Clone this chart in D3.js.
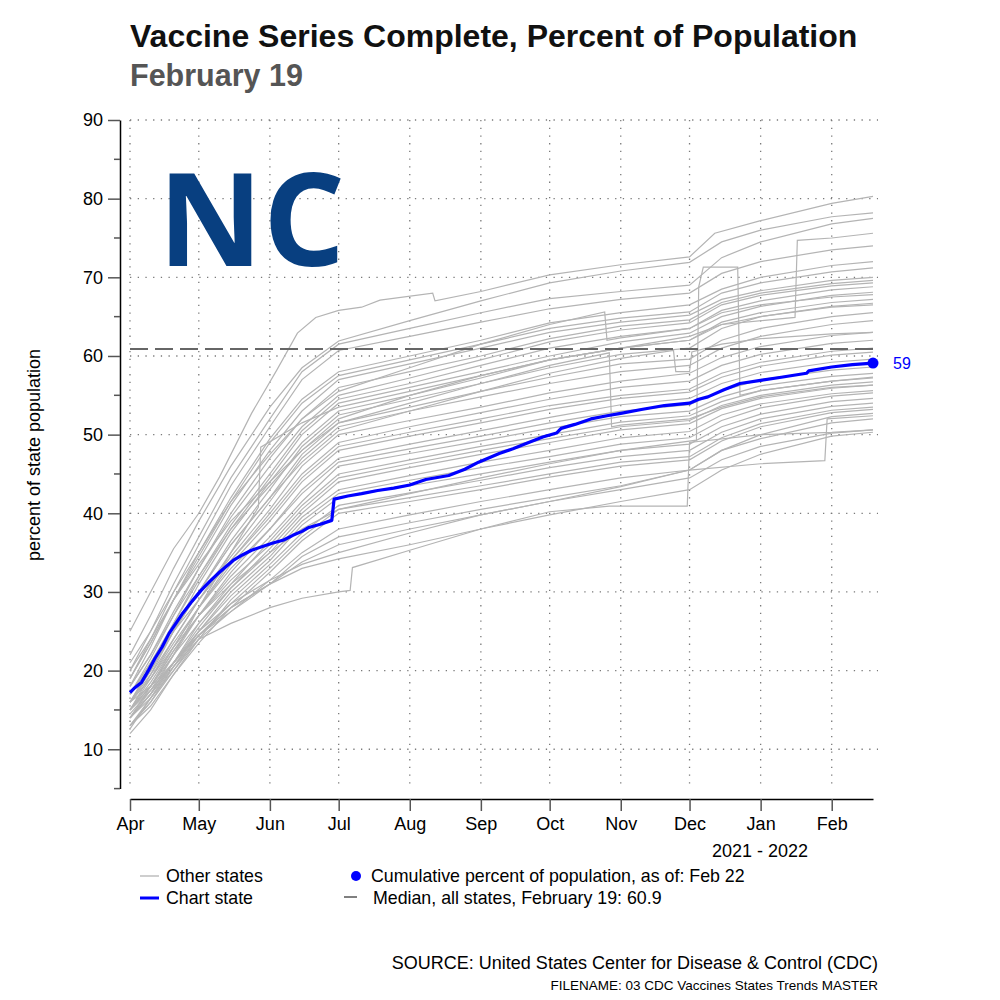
<!DOCTYPE html>
<html lang="en">
<head>
<meta charset="UTF-8">
<title>Vaccine Series Complete</title>
<script src="https://cdn.jsdelivr.net/npm/d3@7"></script>
<style>
  body { margin: 0; background: #fff; }
  svg { display: block; font-family: "Liberation Sans", Arial, Helvetica, sans-serif; }
</style>
</head>
<body>
<svg id="chart" width="1000" height="1000"></svg>
<script>
// ---- data ----
const chartState = "NC"
const titleText = "Vaccine Series Complete, Percent of Population"
const subtitleText = "February 19"
const medianValue = 60.9
const lastValueLabel = "59"

const sampleDates = ["2021-04-01","2021-04-10","2021-04-20","2021-05-01","2021-05-15","2021-06-01","2021-06-15",
  "2021-07-01","2021-08-01","2021-09-01","2021-10-01","2021-11-01","2021-12-01","2021-12-15","2022-01-01","2022-02-01","2022-02-19"]

// other states sampled on sampleDates
const otherStates = [
  [22, 27, 33, 39, 46, 53.5, 58.5, 61.9, 64.5, 67, 69.3, 70.8, 71.9, 74.5, 76, 77.7, 78.2],
  [20, 25, 31, 37, 44.5, 52, 58, 61.5, 63.5, 65.5, 67.3, 68.2, 69, 72.5, 74.5, 76.8, 77.5],
  [19, 24, 30, 36, 43.5, 51, 57, 60.7, 62.5, 64.3, 66, 67.2, 68, 70.5, 72, 73.5, 74.0],
  [21, 25, 30, 35, 42, 49.5, 54.5, 58, 60, 62, 64.2, 65.5, 66.5, 68.5, 70, 71.5, 72],
  [18, 23, 29, 34.5, 41.5, 49, 54, 57.5, 59.5, 61.5, 63.5, 64.8, 65.6, 68, 69.3, 70.7, 71.2],
  [19, 23.5, 29, 34, 41, 48, 53, 57, 59, 61, 63, 64.3, 65.2, 67.2, 68.3, 69.6, 70],
  [17, 21.5, 27, 33, 40, 47, 52, 56, 58, 60, 62.2, 63.8, 64.6, 66.8, 68, 69.2, 69.6],
  [18, 22, 27.5, 33, 39.5, 46, 51, 55, 57.2, 59.5, 61.8, 63.3, 64.2, 66.5, 67.7, 68.9, 69.3],
  [16, 20.5, 26, 32, 38.5, 45, 50.5, 54.5, 56.5, 58.8, 61, 62.5, 63.5, 65.8, 67, 68.4, 68.8],
  [17, 21, 26, 31.5, 38, 44.5, 50, 54, 56, 58, 60, 61.8, 62.9, 65, 66.3, 67.7, 68.1],
  [15, 19.5, 25, 31, 37.5, 44, 49, 53, 55, 57.2, 59.5, 61, 62, 64.3, 65.5, 66.8, 67.2],
  [16, 20, 25, 30, 36.5, 43, 48.5, 52.5, 54.5, 56.5, 58.5, 60.2, 61, 63.5, 65, 66.3, 66.7],
  [17, 21, 25.5, 30, 36, 42, 47.5, 51.5, 53.5, 55.5, 57.3, 59, 59.6, 62, 63.5, 65, 65.5],
  [15, 19, 24, 29, 35, 41.5, 47, 51, 53, 54.8, 56.5, 58, 58.8, 61, 62.5, 64, 64.5],
  [16, 19.5, 24, 29, 34.5, 40.5, 46, 50, 51.8, 53.5, 55.3, 56.8, 57.8, 59.8, 61.2, 62.6, 63],
  [14, 18, 23, 28, 34, 40, 45, 49, 51, 52.8, 54.5, 56, 56.8, 58.8, 60.2, 61.6, 62],
  [17, 20.5, 25, 29, 34, 39.5, 44.5, 48.5, 50.3, 52, 53.7, 55, 55.8, 57.8, 59.2, 60.6, 61],
  [15, 18.5, 23, 28, 33.5, 39, 44, 48, 49.8, 51.5, 53.2, 54.6, 55.4, 57.3, 58.7, 60.1, 60.5],
  [16, 19, 23.5, 28, 33, 38, 43, 47, 48.8, 50.5, 52.2, 53.8, 54.6, 56.5, 57.9, 59.2, 59.6],
  [14, 17.5, 22, 27, 32.5, 38, 42.5, 46.5, 48.2, 49.8, 51.5, 53, 53.8, 55.6, 57, 58.2, 58.6],
  [15, 18, 22.5, 27, 32, 37, 41.5, 46, 47.6, 49.2, 50.8, 52.3, 53, 54.8, 56.2, 57.4, 57.8],
  [13, 16.5, 21, 26, 31, 36.5, 41, 45, 46.8, 48.5, 50, 51.6, 52.4, 54.2, 55.6, 56.8, 57.2],
  [16, 19, 23, 27, 31.5, 36, 40.5, 44.5, 46.3, 48, 49.5, 51, 51.8, 53.7, 55, 56.3, 56.7],
  [14, 17, 21, 25.5, 30.5, 35.5, 40, 44, 45.8, 47.5, 49, 50.6, 51.4, 53.3, 54.6, 55.9, 56.3],
  [15, 18, 22, 26, 30.5, 35, 39.5, 43, 44.8, 46.5, 48, 49.6, 50.4, 52.5, 53.9, 55.2, 55.6],
  [13, 16, 20.5, 25, 30, 34.5, 39, 42.5, 44.2, 45.8, 47.2, 48.8, 49.6, 51.8, 53.4, 54.9, 55.3],
  [14, 17, 21, 25, 29.5, 34, 38.5, 42, 43.5, 45, 46.5, 48, 48.8, 51, 52.6, 54.2, 54.6],
  [12, 15, 19.5, 24, 29, 33.5, 37.5, 41, 42.6, 44.2, 45.8, 47.2, 48, 50.3, 52, 53.6, 54],
  [15, 17.5, 21, 24.5, 28.5, 33, 37, 40.5, 42, 43.5, 45, 46.5, 47.2, 49.6, 51.4, 53.1, 53.5],
  [13, 15.5, 19.5, 23.5, 28, 32.5, 36.5, 40, 41.5, 43, 44.6, 46, 46.8, 49.2, 51, 52.8, 53.2],
  [14, 16.5, 20, 24, 27.5, 31.5, 35, 38, 39.8, 41.5, 43, 44.5, 45.5, 48, 50, 52.3, 52.7],
  [16, 18, 21, 24.5, 27.5, 31, 34.5, 37, 38.8, 40.5, 42, 43.5, 45.5, 48, 49.5, 51.5, 52],
  [13, 16, 20, 24.5, 28, 31, 33.8, 36, 38, 39.8, 41.5, 43, 44.5, 46.8, 48.5, 50.2, 50.6],
  [14, 17, 20.5, 24.5, 28, 31, 33, 34.2, 36, 38, 39.8, 41.5, 43, 45.5, 47.5, 49.8, 50.3]
]

// states with reporting jumps, each with its own dates
const irregularDates = [
  ["2021-04-01","2021-04-10","2021-04-20","2021-05-01","2021-05-10","2021-05-24","2021-06-04","2021-06-13","2021-06-21","2021-07-01","2021-07-11","2021-07-19","2021-08-11","2021-08-12","2021-09-01","2021-10-01","2021-11-01","2021-12-01","2021-12-12","2022-01-01","2022-02-01","2022-02-19"],
  ["2021-04-01","2021-04-10","2021-04-20","2021-05-01","2021-05-15","2021-06-01","2021-06-15","2021-07-01","2021-07-06","2021-07-07","2021-08-01","2021-09-01","2021-10-01","2021-10-27","2021-11-30","2021-12-01","2022-01-01","2022-02-01","2022-02-19"],
  ["2021-04-01","2021-04-10","2021-04-20","2021-05-01","2021-05-15","2021-06-01","2021-06-15","2021-07-01","2021-08-01","2021-09-01","2021-10-01","2021-11-01","2021-12-01","2022-01-01","2022-01-29","2022-01-30","2022-02-19"],
  ["2021-04-01","2021-04-10","2021-04-20","2021-05-01","2021-05-15","2021-06-01","2021-06-15","2021-07-01","2021-08-01","2021-09-01","2021-10-01","2021-11-01","2021-12-04","2021-12-05","2021-12-07","2021-12-22","2021-12-23","2022-01-01","2022-02-01","2022-02-19"],
  ["2021-04-01","2021-04-10","2021-04-20","2021-05-01","2021-05-15","2021-06-01","2021-06-15","2021-07-01","2021-08-01","2021-09-01","2021-10-01","2021-10-27","2021-10-28","2021-11-01","2021-12-01","2021-12-15","2022-01-01","2022-02-01","2022-02-19"],
  ["2021-04-01","2021-04-10","2021-04-20","2021-05-01","2021-05-15","2021-06-01","2021-06-15","2021-07-01","2021-08-01","2021-09-01","2021-10-01","2021-10-25","2021-10-26","2021-11-01","2021-12-01","2021-12-15","2022-01-01","2022-02-01","2022-02-19"],
  ["2021-04-01","2021-04-10","2021-04-20","2021-05-01","2021-05-15","2021-06-01","2021-06-15","2021-07-01","2021-08-01","2021-09-01","2021-10-01","2021-11-01","2021-12-01","2021-12-15","2022-01-16","2022-01-17","2022-02-01","2022-02-19"],
  ["2021-04-01","2021-04-10","2021-04-20","2021-05-01","2021-05-15","2021-06-01","2021-06-15","2021-07-01","2021-08-01","2021-09-01","2021-10-01","2021-11-01","2021-11-24","2021-11-25","2021-12-01","2021-12-02","2021-12-15","2022-01-01","2022-02-01","2022-02-19"],
  ["2021-04-01","2021-04-10","2021-04-20","2021-05-01","2021-05-15","2021-05-27","2021-05-28","2021-06-15","2021-07-01","2021-08-01","2021-09-01","2021-10-01","2021-11-01","2021-12-01","2021-12-15","2022-01-01","2022-02-01","2022-02-19"]
]
const irregularValues = [
  [25, 30, 35.5, 40, 44.6, 52.7, 58.2, 62.9, 64.9, 65.8, 66.2, 67.1, 68.0, 67.0, 68.2, 70.3, 71.6, 72.6, 75.6, 77.2, 79.4, 80.3],
  [12.6, 16.5, 20.5, 24, 26, 28, 29.2, 30, 30.2, 33.1, 35.3, 38, 40.2, 40.9, 40.9, 49, 50, 50.3, 50.6],
  [14.5, 17.5, 21, 25, 28.5, 31.5, 33.5, 35, 37.5, 39.8, 41.5, 43.4, 45.5, 46.3, 46.7, 52, 52.4],
  [15, 18, 22.5, 27, 31, 35, 38, 40.5, 42.5, 44.5, 46.3, 48, 49.3, 68.8, 71.3, 71.3, 55, 55.6, 56.8, 57.3],
  [20, 24, 29, 33.5, 39, 44, 48, 51.5, 54, 56.5, 58.8, 60.4, 51, 51.2, 52, 53.5, 54.8, 56, 56.3],
  [19, 23.5, 29, 35, 41.5, 47.5, 52, 55.5, 58.5, 61.5, 64, 65.6, 62, 62.3, 63.5, 65.5, 66.5, 67.5, 67.8],
  [18, 22, 27, 32, 38, 43.5, 48, 52, 55, 57.5, 59.5, 61, 62.5, 64, 64.9, 74.7, 75, 75.6],
  [16, 20, 25, 30, 36, 42, 46.5, 50.5, 53, 55.5, 57.8, 59.7, 60.7, 58, 58, 60.5, 61.5, 62.2, 62.8, 63],
  [14, 17, 22, 28, 35, 40.8, 48.4, 51.5, 53.5, 55.5, 57.5, 59.5, 61, 62, 64, 65, 66.2, 66.5]
]

// chart state (North Carolina)
const ncDates = ["2021-04-01","2021-04-03","2021-04-06","2021-04-09","2021-04-12","2021-04-15","2021-04-18","2021-04-21","2021-04-24","2021-04-28",
  "2021-05-02","2021-05-06","2021-05-10","2021-05-16","2021-05-20","2021-05-24","2021-06-02","2021-06-07","2021-06-11","2021-06-15",
  "2021-06-18","2021-06-23","2021-06-28","2021-06-29","2021-07-05","2021-07-11","2021-07-18","2021-07-25","2021-08-01","2021-08-08",
  "2021-08-18","2021-08-25","2021-08-31","2021-09-09","2021-09-15","2021-09-21","2021-09-28","2021-10-04","2021-10-06","2021-10-12",
  "2021-10-19","2021-10-26","2021-11-01","2021-11-10","2021-11-20","2021-12-01","2021-12-05","2021-12-09","2021-12-16","2021-12-23",
  "2022-01-01","2022-01-10","2022-01-21","2022-01-22","2022-02-01","2022-02-10","2022-02-19"]
const ncValues = [17.2, 17.8, 18.5, 20.0, 21.6, 23.0, 24.7, 26.0, 27.3, 28.8,
  30.2, 31.4, 32.5, 34.0, 34.7, 35.3, 36.2, 36.6, 37.2, 37.7,
  38.2, 38.6, 39.1, 41.8, 42.2, 42.5, 42.9, 43.2, 43.6, 44.3,
  44.8, 45.6, 46.5, 47.6, 48.2, 48.9, 49.7, 50.2, 50.8, 51.3,
  52.0, 52.4, 52.7, 53.2, 53.7, 54.0, 54.5, 54.8, 55.7, 56.5,
  56.9, 57.3, 57.8, 58.1, 58.6, 58.9, 59.1]

const monthTicks = ["2021-04-01","2021-05-01","2021-06-01","2021-07-01","2021-08-01","2021-09-01","2021-10-01",
  "2021-11-01","2021-12-01","2022-01-01","2022-02-01"]
const yMajorTicks = [10, 20, 30, 40, 50, 60, 70, 80, 90]
const yMinorTicks = [5, 15, 25, 35, 45, 55, 65, 75, 85]

// ---- drawing ----
const parse = d3.timeParse("%Y-%m-%d")
const svg = d3.select("#chart")

const x = d3.scaleTime()
  .domain([parse("2021-04-01"), parse("2022-02-19")])
  .range([130, 873])
const y = d3.scaleLinear().domain([5, 90]).range([788.6, 120])

// grid
const grid = svg.append("g").attr("stroke", "#7a7a7a").attr("stroke-width", 1.3)
  .attr("stroke-dasharray", "1.3,6.4")
grid.selectAll("line.h").data(yMajorTicks).join("line")
  .attr("x1", 130).attr("x2", 878)
  .attr("y1", d => y(d)).attr("y2", d => y(d))
grid.selectAll("line.v").data(monthTicks).join("line")
  .attr("x1", d => x(parse(d))).attr("x2", d => x(parse(d)))
  .attr("y1", 120).attr("y2", 789)

// big state label
svg.append("text").attr("x", 158).attr("y", 266)
  .attr("font-family", "'Open Sans', 'Noto Sans', sans-serif")
  .attr("font-weight", 700).attr("font-size", 129)
  .attr("fill", "#083f80")
  .text(chartState)

// lines
const lineGen = d3.line().x(d => x(d.date)).y(d => y(d.value))

const grayData = otherStates.map(vals => sampleDates.map((d, i) => ({ date: parse(d), value: vals[i] })))
  .concat(irregularDates.map((ds, k) => ds.map((d, i) => ({ date: parse(d), value: irregularValues[k][i] }))))

svg.append("g").selectAll("path").data(grayData).join("path")
  .attr("d", lineGen)
  .attr("fill", "none")
  .attr("stroke", "#b4b4b4")
  .attr("stroke-width", 1.2)

// median dashed line
svg.append("line")
  .attr("x1", 130).attr("x2", 878)
  .attr("y1", y(medianValue)).attr("y2", y(medianValue))
  .attr("stroke", "#666").attr("stroke-width", 2)
  .attr("stroke-dasharray", "18,7")

const ncData = ncDates.map((d, i) => ({ date: parse(d), value: ncValues[i] }))
svg.append("path").datum(ncData)
  .attr("d", lineGen)
  .attr("fill", "none")
  .attr("stroke", "#0000ff")
  .attr("stroke-width", 3.2)
  .attr("stroke-linejoin", "round")

const last = ncData[ncData.length - 1]
svg.append("circle").attr("cx", x(last.date)).attr("cy", y(last.value)).attr("r", 5.5).attr("fill", "#0000ff")
svg.append("text").attr("x", x(last.date) + 20).attr("y", y(last.value) + 6)
  .attr("font-size", 16).attr("fill", "#0000ff").text(lastValueLabel)

// axes
const yAxis = d3.axisLeft(y).tickValues(yMajorTicks).tickSize(12).tickSizeOuter(0).tickPadding(5)
const gy = svg.append("g").attr("transform", "translate(120,0)").call(yAxis)
gy.select(".domain").attr("stroke", "#000").attr("stroke-width", 1.5)
gy.selectAll(".tick line").attr("stroke", "#555").attr("stroke-width", 1.5)
gy.selectAll(".tick text").attr("font-size", 18).attr("fill", "#000")
  .attr("font-family", "'Liberation Sans', Arial, sans-serif")
gy.selectAll("line.minor").data(yMinorTicks).join("line").attr("class", "minor")
  .attr("x1", -6).attr("x2", 0).attr("y1", d => y(d)).attr("y2", d => y(d))
  .attr("stroke", "#555").attr("stroke-width", 1.5)

const xAxis = d3.axisBottom(x).tickValues(monthTicks.map(parse))
  .tickFormat(d3.timeFormat("%b")).tickSize(12).tickSizeOuter(0).tickPadding(6)
const gx = svg.append("g").attr("transform", "translate(0,799)").call(xAxis)
gx.select(".domain").attr("stroke", "#000").attr("stroke-width", 1.5)
gx.selectAll(".tick line").attr("stroke", "#555").attr("stroke-width", 1.5)
gx.selectAll(".tick text").attr("font-size", 18).attr("fill", "#000")
  .attr("font-family", "'Liberation Sans', Arial, sans-serif")

svg.append("text").attr("x", 760).attr("y", 857).attr("text-anchor", "middle")
  .attr("font-size", 18).text("2021 - 2022")

// y label
svg.append("text").attr("transform", "translate(40,455) rotate(-90)")
  .attr("text-anchor", "middle").attr("font-size", 18).text("percent of state population")

// titles
svg.append("text").attr("x", 130).attr("y", 47).attr("font-size", 32).attr("font-weight", 700)
  .attr("fill", "#111").text(titleText)
svg.append("text").attr("x", 130).attr("y", 86).attr("font-size", 30.5).attr("font-weight", 700)
  .attr("fill", "#555").text(subtitleText)

// legend
const leg = svg.append("g").attr("font-size", 17.8)
leg.append("line").attr("x1", 140).attr("x2", 159).attr("y1", 876).attr("y2", 876)
  .attr("stroke", "#b4b4b4").attr("stroke-width", 1.3)
leg.append("text").attr("x", 166).attr("y", 882).text("Other states")
leg.append("line").attr("x1", 140).attr("x2", 159).attr("y1", 898).attr("y2", 898)
  .attr("stroke", "#0000ff").attr("stroke-width", 3)
leg.append("text").attr("x", 166).attr("y", 904).text("Chart state")
leg.append("circle").attr("cx", 356).attr("cy", 876).attr("r", 5).attr("fill", "#0000ff")
leg.append("text").attr("x", 371).attr("y", 882).text("Cumulative percent of population, as of: Feb 22")
leg.append("line").attr("x1", 344).attr("x2", 357).attr("y1", 897).attr("y2", 897)
  .attr("stroke", "#000").attr("stroke-width", 1)
leg.append("text").attr("x", 368).attr("y", 904).attr("xml:space", "preserve")
  .text(" Median, all states, February 19: " + medianValue)

// source
svg.append("text").attr("x", 878).attr("y", 969).attr("text-anchor", "end").attr("font-size", 18)
  .text("SOURCE: United States Center for Disease & Control (CDC)")
svg.append("text").attr("x", 878).attr("y", 990).attr("text-anchor", "end").attr("font-size", 13.5)
  .text("FILENAME: 03 CDC Vaccines States Trends MASTER")
</script>
</body>
</html>
